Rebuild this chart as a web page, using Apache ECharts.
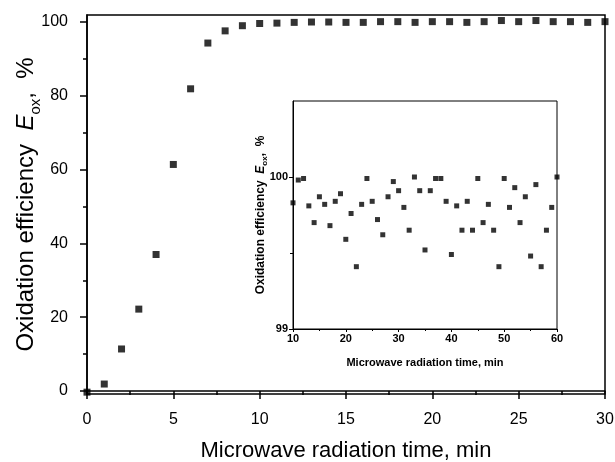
<!DOCTYPE html>
<html>
<head>
<meta charset="utf-8">
<script src="https://cdn.jsdelivr.net/npm/echarts@6/dist/echarts.min.js"></script>
<style>
  html, body { margin: 0; padding: 0; background: #fff; }
  #chart { width: 615px; height: 462px; }
</style>
</head>
<body>
<div id="chart"></div>
<script>
// main plot: 0-30 min
var mainTime = [0, 1, 2, 3, 4, 5, 6, 7, 8, 9, 10, 11, 12, 13, 14, 15, 16, 17, 18, 19, 20,
  21, 22, 23, 24, 25, 26, 27, 28, 29, 30];
var mainEff = [-0.3, 1.9, 11.4, 22.2, 37.0, 61.4, 81.9, 94.3, 97.6, 99.0, 99.6, 99.7, 99.9,
  100.0, 100.0, 99.9, 99.9, 100.1, 100.1, 99.9, 100.1, 100.1, 99.9, 100.1, 100.4, 100.1,
  100.4, 100.1, 100.1, 99.9, 100.1];
var mainXTicks = [0, 5, 10, 15, 20, 25, 30];
var mainYTicks = [0, 20, 40, 60, 80, 100];
var mainYMinor = [10, 30, 50, 70, 90];

// inset: 10-60 min
var insetTime = [10, 11, 12, 13, 14, 15, 16, 17, 18, 19, 20, 21, 22, 23, 24, 25, 26, 27, 28,
  29, 30, 31, 32, 33, 34, 35, 36, 37, 38, 39, 40, 41, 42, 43, 44, 45, 46, 47, 48, 49, 50,
  51, 52, 53, 54, 55, 56, 57, 58, 59, 60];
var insetEff = [99.83, 99.98, 99.99, 99.81, 99.70, 99.87, 99.82, 99.68, 99.84, 99.89, 99.59,
  99.76, 99.41, 99.82, 99.99, 99.84, 99.72, 99.62, 99.87, 99.97, 99.91, 99.80, 99.65, 100.0,
  99.91, 99.52, 99.91, 99.99, 99.99, 99.84, 99.49, 99.81, 99.65, 99.84, 99.65, 99.99, 99.70,
  99.82, 99.65, 99.41, 99.99, 99.80, 99.93, 99.70, 99.87, 99.48, 99.95, 99.41, 99.65, 99.80,
  100.0];
var insetYTicks = [99, 100];
var insetYMinor = [99.5];

var font = "'Liberation Sans', Arial, sans-serif";
var black = "#000";

function pairs(xs, ys) {
  var out = [];
  for (var i = 0; i < xs.length; i++) out.push([xs[i], ys[i]]);
  return out;
}

var chart = echarts.init(document.getElementById("chart"), null, { renderer: "canvas" });

var option = {
  backgroundColor: "#fff",
  animation: false,
  grid: [
    {
      left: 87, top: 15, right: 10, bottom: 68,
      show: true, borderColor: black, borderWidth: 1.5,
      outerBoundsMode: "none"
    },
    {
      left: 293, top: 101, width: 264, height: 228,
      show: true, borderColor: black, borderWidth: 1, backgroundColor: "#fff",
      outerBoundsMode: "none"
    }
  ],
  xAxis: [
    {
      gridIndex: 0, type: "value", min: 0, max: 30, interval: 5,
      name: "Microwave radiation time, min",
      nameLocation: "middle", nameGap: 46, nameMoveOverlap: false,
      nameTextStyle: { fontFamily: font, fontSize: 22, color: black },
      axisLine: { lineStyle: { color: black, width: 1.5 } },
      axisTick: { length: 8, lineStyle: { color: black, width: 1.5 }, customValues: mainXTicks },
      minorTick: { show: true, splitNumber: 2, length: 4, lineStyle: { color: black, width: 1.5 } },
      axisLabel: { fontFamily: font, fontSize: 16, color: black, margin: 18, customValues: mainXTicks },
      splitLine: { show: false }
    },
    {
      gridIndex: 1, type: "value", min: 10, max: 60, interval: 10,
      name: "Microwave radiation time, min",
      nameLocation: "middle", nameGap: 28, nameMoveOverlap: false,
      nameTextStyle: { fontFamily: font, fontSize: 11, fontWeight: "bold", color: black },
      axisLine: { lineStyle: { color: black, width: 1 } },
      axisTick: { length: 3, lineStyle: { color: black } },
      minorTick: { show: true, splitNumber: 2, length: 2, lineStyle: { color: black } },
      axisLabel: { fontFamily: font, fontSize: 11, fontWeight: "bold", color: black, margin: 4 },
      splitLine: { show: false }
    }
  ],
  yAxis: [
    {
      gridIndex: 0, type: "value", min: -0.8, max: 101.9, position: "left",
      name: "{n|Oxidation efficiency  }{e|E}{s|ox}{n|,  %}",
      nameLocation: "middle", nameGap: 44, nameRotate: 90, nameMoveOverlap: false,
      nameTextStyle: {
        rich: {
          n: { fontFamily: font, fontSize: 24, color: black, lineHeight: 34, verticalAlign: "middle" },
          e: { fontFamily: font, fontSize: 24, fontStyle: "italic", color: black, lineHeight: 34, verticalAlign: "middle" },
          s: { fontFamily: font, fontSize: 15, color: black, lineHeight: 15, verticalAlign: "bottom" }
        }
      },
      axisLine: { lineStyle: { color: black, width: 1.5 } },
      axisTick: { length: 7, lineStyle: { color: black, width: 1.5 }, customValues: mainYTicks },
      axisLabel: { fontFamily: font, fontSize: 16, color: black, margin: 19, customValues: mainYTicks },
      splitLine: { show: false }
    },
    {
      // minor ticks only
      gridIndex: 0, type: "value", min: -0.8, max: 101.9, position: "left", offset: 0,
      axisLine: { show: false },
      axisTick: { length: 4, lineStyle: { color: black, width: 1.5 }, customValues: mainYMinor },
      axisLabel: { show: false },
      splitLine: { show: false }
    },
    {
      gridIndex: 1, type: "value", min: 99, max: 100.5, position: "left",
      name: "{n|Oxidation efficiency  }{e|E}{s|ox}{n|,  %}",
      nameLocation: "middle", nameGap: 24, nameRotate: 90, nameMoveOverlap: false,
      nameTextStyle: {
        rich: {
          n: { fontFamily: font, fontSize: 12, fontWeight: "bold", color: black, lineHeight: 17, verticalAlign: "middle" },
          e: { fontFamily: font, fontSize: 12, fontWeight: "bold", fontStyle: "italic", color: black, lineHeight: 17, verticalAlign: "middle" },
          s: { fontFamily: font, fontSize: 8, fontWeight: "bold", color: black, lineHeight: 8, verticalAlign: "bottom" }
        }
      },
      axisLine: { lineStyle: { color: black, width: 1 } },
      axisTick: { length: 4, lineStyle: { color: black }, customValues: insetYTicks },
      axisLabel: { fontFamily: font, fontSize: 11, fontWeight: "bold", color: black, margin: 5, customValues: insetYTicks },
      splitLine: { show: false }
    },
    {
      gridIndex: 1, type: "value", min: 99, max: 100.5, position: "left", offset: 0,
      axisLine: { show: false },
      axisTick: { length: 3, lineStyle: { color: black }, customValues: insetYMinor },
      axisLabel: { show: false },
      splitLine: { show: false }
    }
  ],
  series: [
    {
      type: "scatter", xAxisIndex: 0, yAxisIndex: 0,
      symbol: "rect", symbolSize: 7,
      itemStyle: { color: black },
      data: pairs(mainTime, mainEff)
    },
    {
      type: "scatter", xAxisIndex: 1, yAxisIndex: 2,
      symbol: "rect", symbolSize: 5,
      itemStyle: { color: black },
      clip: false,
      data: pairs(insetTime, insetEff)
    }
  ]
};

chart.setOption(option);
</script>
</body>
</html>
